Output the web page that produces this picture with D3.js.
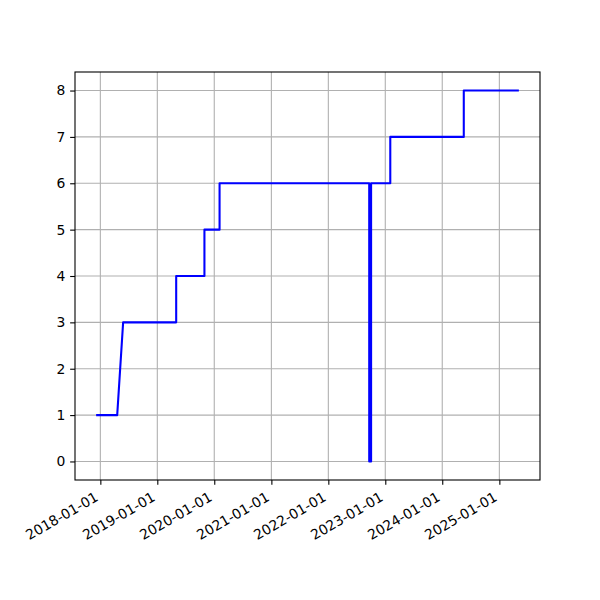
<!DOCTYPE html>
<html><head><meta charset="utf-8">
<script src="https://cdn.jsdelivr.net/npm/d3@7"></script>
<style>body{margin:0;background:#fff}svg{display:block}text{font-family:"DejaVu Sans";font-size:13.9px;fill:#000}</style>
</head><body>
<script>
const dates = ["2017-12-05","2018-04-19","2018-05-27","2019-05-02","2019-05-02","2019-10-30","2019-10-30","2020-02-04","2020-02-04","2022-09-20","2022-09-20","2022-10-02","2022-10-02","2023-02-02","2023-02-02","2024-05-18","2024-05-18","2025-05-06"];
const values = [1,1,3,3,4,4,5,5,6,6,0,0,6,6,7,7,8,8];
const xTickLabels = ["2018-01-01","2019-01-01","2020-01-01","2021-01-01","2022-01-01","2023-01-01","2024-01-01","2025-01-01"];
const yTicks = [0,1,2,3,4,5,6,7,8];

const W=600,H=600,L=75,R=540,T=72,B=480;
const parse=d3.utcParse("%Y-%m-%d");
const pts=dates.map((d,i)=>({x:parse(d),y:values[i]}));
const xe=d3.extent(pts,d=>d.x), span=xe[1]-xe[0];
const x=d3.scaleUtc().domain([new Date(+xe[0]-span*0.05),new Date(+xe[1]+span*0.05)]).range([L,R]);
const y=d3.scaleLinear().domain([-0.4,8.4]).range([B,T]);
const svg=d3.select("body").append("svg").attr("width",W).attr("height",H);
const xt=xTickLabels.map(parse);
// grid
svg.append("g").selectAll("line").data(xt).join("line")
 .attr("x1",d=>x(d)).attr("x2",d=>x(d)).attr("y1",T).attr("y2",B)
 .attr("stroke","#b0b0b0").attr("stroke-width",1.1);
svg.append("g").selectAll("line").data(yTicks).join("line")
 .attr("y1",d=>y(d)).attr("y2",d=>y(d)).attr("x1",L).attr("x2",R)
 .attr("stroke","#b0b0b0").attr("stroke-width",1.1);
// line
svg.append("path").datum(pts)
 .attr("d",d3.line().x(d=>x(d.x)).y(d=>y(d.y)))
 .attr("fill","none").attr("stroke","#0000ff").attr("stroke-width",2.08).attr("stroke-linejoin","round").attr("stroke-linecap","butt");
// axes
const xa=svg.append("g").attr("transform",`translate(0,${B})`)
 .call(d3.axisBottom(x).tickValues(xt).tickSize(4.86).tickFormat(""));
const ya=svg.append("g").attr("transform",`translate(${L},0)`)
 .call(d3.axisLeft(y).tickValues(yTicks).tickSize(4.86).tickFormat(""));
[xa,ya].forEach(a=>{a.select(".domain").remove();a.selectAll("line").attr("stroke","#000").attr("stroke-width",1.1);});
svg.append("rect").attr("x",L).attr("y",T).attr("width",R-L).attr("height",B-T)
 .attr("fill","none").attr("stroke","#000").attr("stroke-width",1.1);
// x labels
svg.append("g").selectAll("text").data(xt).join("text")
 .attr("transform",d=>`translate(${x(d)-7},${B+9.7}) rotate(-30)`)
 .attr("text-anchor","end").attr("dy","0.85em")
 .text((d,i)=>xTickLabels[i]);
// y labels
svg.append("g").selectAll("text").data(yTicks).join("text")
 .attr("x",L-4.86-4.86).attr("y",d=>y(d)).attr("dy","0.35em").attr("text-anchor","end")
 .text(d=>d);
</script>
</body></html>
